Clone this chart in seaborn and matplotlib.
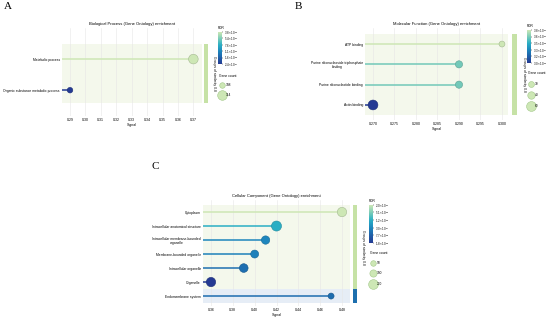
import numpy as np
import pandas as pd
import seaborn as sns
import matplotlib.pyplot as plt
from matplotlib.colors import LinearSegmentedColormap, LogNorm, to_rgb
from matplotlib.cm import ScalarMappable
from matplotlib.lines import Line2D

# ---- data ----
bp_terms = ["Metabolic process", "Organic substance metabolic process"]
bp_signal = [0.370, 0.290]
bp_fdr = [3.8e-3, 2.4e-7]
bp_count = [114, 108]
bp_group = [1, 1]
bp_fdr_ticks = [3.8e-3, 5.4e-4, 7.6e-5, 1.1e-5, 1.6e-6, 2.4e-7]
bp_count_legend = [108, 114]
bp_xticks = [0.29, 0.30, 0.31, 0.32, 0.33, 0.34, 0.35, 0.36, 0.37]

mf_terms = ["ATP binding", "Purine ribonucleoside triphosphate\nbinding",
            "Purine ribonucleotide binding", "Actin binding"]
mf_signal = [0.300, 0.290, 0.290, 0.270]
mf_fdr = [3.8e-4, 2.9e-5, 2.9e-5, 3.0e-9]
mf_count = [30, 38, 38, 60]
mf_group = [1, 1, 1, 1]
mf_fdr_ticks = [3.8e-4, 3.6e-5, 3.5e-6, 3.3e-7, 3.2e-8, 3.0e-9]
mf_count_legend = [30, 40, 60]
mf_xticks = [0.270, 0.275, 0.280, 0.285, 0.290, 0.295, 0.300]

cc_terms = ["Cytoplasm", "Intracellular anatomical structure",
            "Intracellular membrane-bounded\norganelle", "Membrane-bounded organelle",
            "Intracellular organelle", "Organelle", "Endomembrane system"]
cc_signal = [0.48, 0.42, 0.41, 0.40, 0.39, 0.36, 0.47]
cc_fdr = [2.0e-5, 1.2e-6, 3.0e-7, 2.4e-7, 1.3e-7, 1.8e-8, 1.2e-7]
cc_count = [182, 214, 141, 127, 155, 182, 62]
cc_group = [1, 1, 1, 1, 1, 1, 2]
cc_fdr_ticks = [2.0e-5, 5.1e-6, 1.2e-6, 3.0e-7, 7.7e-8, 1.8e-8]
cc_count_legend = [50, 100, 200]
cc_xticks = [0.36, 0.38, 0.40, 0.42, 0.44, 0.46, 0.48]

W, H = 550, 324
plt.rcParams['font.family'] = ['Liberation Sans', 'DejaVu Sans']
plt.rcParams['mathtext.fontset'] = 'custom'
plt.rcParams['mathtext.rm'] = 'Liberation Sans'
fig = plt.figure(figsize=(W / 100, H / 100), dpi=100)

cmap = LinearSegmentedColormap.from_list(
    "fdr", ['#243a93', '#1f5fa8', '#1d86bd', '#2aaec4', '#7accb8', '#cde7b5'])
band_col = {1: '#f4f8ec', 2: '#e6edf6'}
bar_col = {1: '#c6e2a6', 2: '#1d6fae'}


def box(l, t, r, b):
    return fig.add_axes([l / W, 1 - b / H, (r - l) / W, (b - t) / H])


def sci(v):
    m, e = f"{v:.1e}".split("e")
    return rf"${m}\times10^{{{int(e)}}}$"


def darker(c, f=0.8):
    return tuple(x * f for x in to_rgb(c))


def panel(terms, signal, fdr, count, group, fdr_ticks, count_legend, xticks, xfmt,
          title, letter, axbox, ylim, span, xlim, barbox, cbox, cpos, size_norm, sizes,
          lblpos, lspace):
    rows = np.arange(len(terms))
    df = pd.DataFrame({"term": terms, "signal": signal, "fdr": fdr,
                       "count": count, "row": rows, "group": group})
    norm = LogNorm(min(fdr_ticks), max(fdr_ticks))
    ax = box(*axbox)
    ax.set_xlim(*xlim)
    ax.set_ylim(*ylim)
    for r, g in zip(rows, group):
        ax.axhspan(max(r - 0.5, span[0]), min(r + 0.5, span[1]),
                   color=band_col[g], zorder=0, lw=0)
    cols = [cmap(norm(v)) for v in fdr]
    ax.hlines(df["row"], xlim[0], df["signal"], colors=cols, lw=1.1, zorder=2)
    sns.scatterplot(data=df, x="signal", y="row", hue="fdr", hue_norm=norm,
                    palette=cmap, size="count", size_norm=size_norm, sizes=sizes,
                    legend=False, edgecolor=[darker(c) for c in cols],
                    linewidth=0.4, ax=ax, zorder=3)
    ax.set_yticks(rows)
    ax.set_yticklabels(terms, fontsize=2.4, multialignment='center')
    ax.set_xticks(xticks)
    ax.set_xticklabels([xfmt.format(v) for v in xticks], fontsize=2.5)
    ax.tick_params(length=0, pad=1.5)
    ax.grid(axis='x', color='#e6e6e6', lw=0.4)
    ax.set_axisbelow(True)
    for s in ax.spines.values():
        s.set_visible(False)
    ax.set_xlabel("Signal", fontsize=2.6, labelpad=1)
    ax.set_ylabel("")
    ax.set_title(title, fontsize=3.0, pad=2)

    # similarity group bar
    bx = box(barbox[0], axbox[1], barbox[1], axbox[3])
    bx.set_ylim(*ylim)
    for r, g in zip(rows, group):
        bx.axhspan(max(r - 0.5, span[0]), min(r + 0.5, span[1]),
                   color=bar_col[g], lw=0)
    bx.axis('off')
    gl = [r for r, g in zip(rows, group) if g == 1]
    yc = (max(min(gl) - 0.5, span[0]) + min(max(gl) + 0.5, span[1])) / 2
    bx.text(2.5, yc, "Groups of similarity 0.8", rotation=270, fontsize=2.4,
            ha='center', va='center', transform=bx.get_yaxis_transform())

    # FDR colour bar
    cax = box(*cbox)
    cb = fig.colorbar(ScalarMappable(norm=norm, cmap=cmap), cax=cax)
    cb.set_ticks(fdr_ticks)
    cb.set_ticklabels([sci(v) for v in fdr_ticks])
    cb.minorticks_off()
    cb.outline.set_visible(False)
    cax.tick_params(labelsize=2.1, length=1.0, width=0.3, pad=0.6)
    fig.text(cbox[0] / W, 1 - (cbox[1] - 2) / H, "FDR", fontsize=2.4,
             ha='left', va='bottom')

    # gene count legend
    lo, hi = size_norm
    handles = [Line2D([], [], ls='', marker='o', color='#cde7b5',
                      markeredgecolor='#a3c98a', markeredgewidth=0.4,
                      markersize=np.sqrt(sizes[0] + (c - lo) / (hi - lo) * (sizes[1] - sizes[0])))
               for c in count_legend]
    fig.legend(handles, [str(c) for c in count_legend], title="Gene count",
               loc='upper left', bbox_to_anchor=(cpos[0] / W, 1 - cpos[1] / H),
               frameon=False, fontsize=2.3, title_fontsize=2.4,
               labelspacing=lspace, handletextpad=0.2, borderpad=0, alignment='left')

    fig.text(lblpos[0] / W, 1 - lblpos[1] / H, letter, fontsize=8,
             family='Liberation Serif', ha='left', va='top')


panel(bp_terms, bp_signal, bp_fdr, bp_count, bp_group, bp_fdr_ticks, bp_count_legend,
      bp_xticks, "{:.2f}", "Biological Process (Gene Ontology) enrichment", "A",
      (62, 28, 202, 116), (1.83, -1.0), (-0.52, 1.42), (0.2848, 0.3756),
      (204, 208), (218, 32, 222, 64), (217, 72), (108, 114), (16, 48), (4, 2), 1.8)

panel(mf_terms, mf_signal, mf_fdr, mf_count, mf_group, mf_fdr_ticks, mf_count_legend,
      mf_xticks, "{:.3f}", "Molecular Function (Gene Ontology) enrichment", "B",
      (365, 28, 508, 120), (3.74, -0.79), (-0.54, 3.49), (0.26814, 0.3014),
      (512, 517), (527, 30, 531, 63), (526, 69), (30, 60), (18, 50), (295, 2), 2.2)

panel(cc_terms, cc_signal, cc_fdr, cc_count, cc_group, cc_fdr_ticks, cc_count_legend,
      cc_xticks, "{:.2f}", "Cellular Component (Gene Ontology) enrichment", "C",
      (203, 200, 350, 306), (6.71, -0.86), (-0.64, 6.5), (0.35267, 0.48733),
      (353, 357), (369, 205, 373, 243), (368, 249), (50, 250), (16, 60), (152, 162), 2.0)

fig.savefig("out.png", dpi=100)
